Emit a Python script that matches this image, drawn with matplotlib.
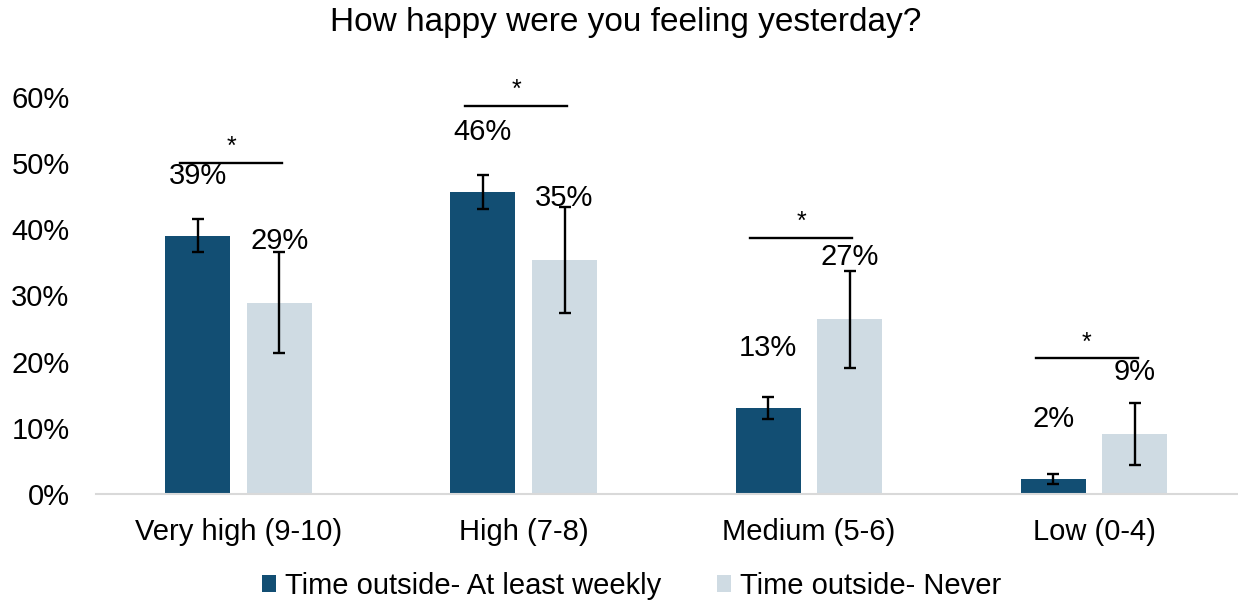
import matplotlib.pyplot as plt
import numpy as np
from matplotlib.patches import Patch
from matplotlib.ticker import PercentFormatter

plt.rcParams["font.family"] = ["Liberation Sans", "DejaVu Sans"]

DARK = "#124E73"
LIGHT = "#CFDBE3"

categories = ["Very high (9-10)", "High (7-8)", "Medium (5-6)", "Low (0-4)"]
series = ["Time outside- At least weekly", "Time outside- Never"]

weekly = [39.0, 45.6, 13.0, 2.3]
weekly_err = [2.5, 2.6, 1.7, 0.75]
never = [28.9, 35.3, 26.4, 9.1]
never_err = [7.6, 8.0, 7.3, 4.7]

weekly_labels = ["39%", "46%", "13%", "2%"]
never_labels = ["29%", "35%", "27%", "9%"]

# height of the significance bracket for each category
sig_level = [50.0, 58.6, 38.7, 20.5]

fig = plt.figure(figsize=(12.38, 6.05), dpi=100)
ax = fig.add_axes([0.0775, 0.1835, 0.9215, 0.6562])

x = np.arange(len(categories))
width = 0.228
off = 0.143

ax.bar(x - off, weekly, width, color=DARK, zorder=2)
ax.bar(x + off, never, width, color=LIGHT, zorder=2)
for pos, vals, errs in [(x - off, weekly, weekly_err), (x + off, never, never_err)]:
    ax.errorbar(pos, vals, yerr=errs, fmt="none", ecolor="black",
                elinewidth=1.7, capsize=4.3, capthick=1.7, zorder=3)

for i in range(len(categories)):
    ax.annotate(weekly_labels[i], (x[i] - off, weekly[i]), xytext=(0, 60),
                textcoords="offset pixels", ha="center", va="center",
                fontsize=21, annotation_clip=False)
    ax.annotate(never_labels[i], (x[i] + off, never[i]), xytext=(0, 62),
                textcoords="offset pixels", ha="center", va="center",
                fontsize=21, annotation_clip=False)
    # significance bracket with star
    ax.plot([x[i] - 0.205, x[i] + 0.152], [sig_level[i]] * 2, color="black",
            lw=1.7, clip_on=False)
    ax.text(x[i] - 0.026, sig_level[i] + 0.6, "*", ha="center", va="bottom",
            fontsize=18)

ax.set_xlim(-0.5, 3.5)
ax.set_ylim(0, 60)
ax.set_yticks(np.arange(0, 61, 10))
ax.yaxis.set_major_formatter(PercentFormatter(decimals=0))
ax.set_xticks(x)
ax.set_xticklabels(categories)
ax.tick_params(axis="both", length=0, labelsize=21)
ax.tick_params(axis="x", pad=17)
ax.tick_params(axis="y", pad=19)
for side in ["top", "right", "left"]:
    ax.spines[side].set_visible(False)
ax.spines["bottom"].set_color("#D9D9D9")
ax.spines["bottom"].set_linewidth(1.5)

fig.text(0.505, 0.962, "How happy were you feeling yesterday?", ha="center",
         va="center", fontsize=24)

handles = [Patch(facecolor=DARK, label=series[0]), Patch(facecolor=LIGHT, label=series[1])]
fig.legend(handles=handles, loc="center", bbox_to_anchor=(0.51, 0.032), ncol=2,
           frameon=False, fontsize=21, handlelength=0.5, handleheight=0.5,
           handletextpad=0.3, columnspacing=1.9)

fig.savefig("out.png", dpi=100)
